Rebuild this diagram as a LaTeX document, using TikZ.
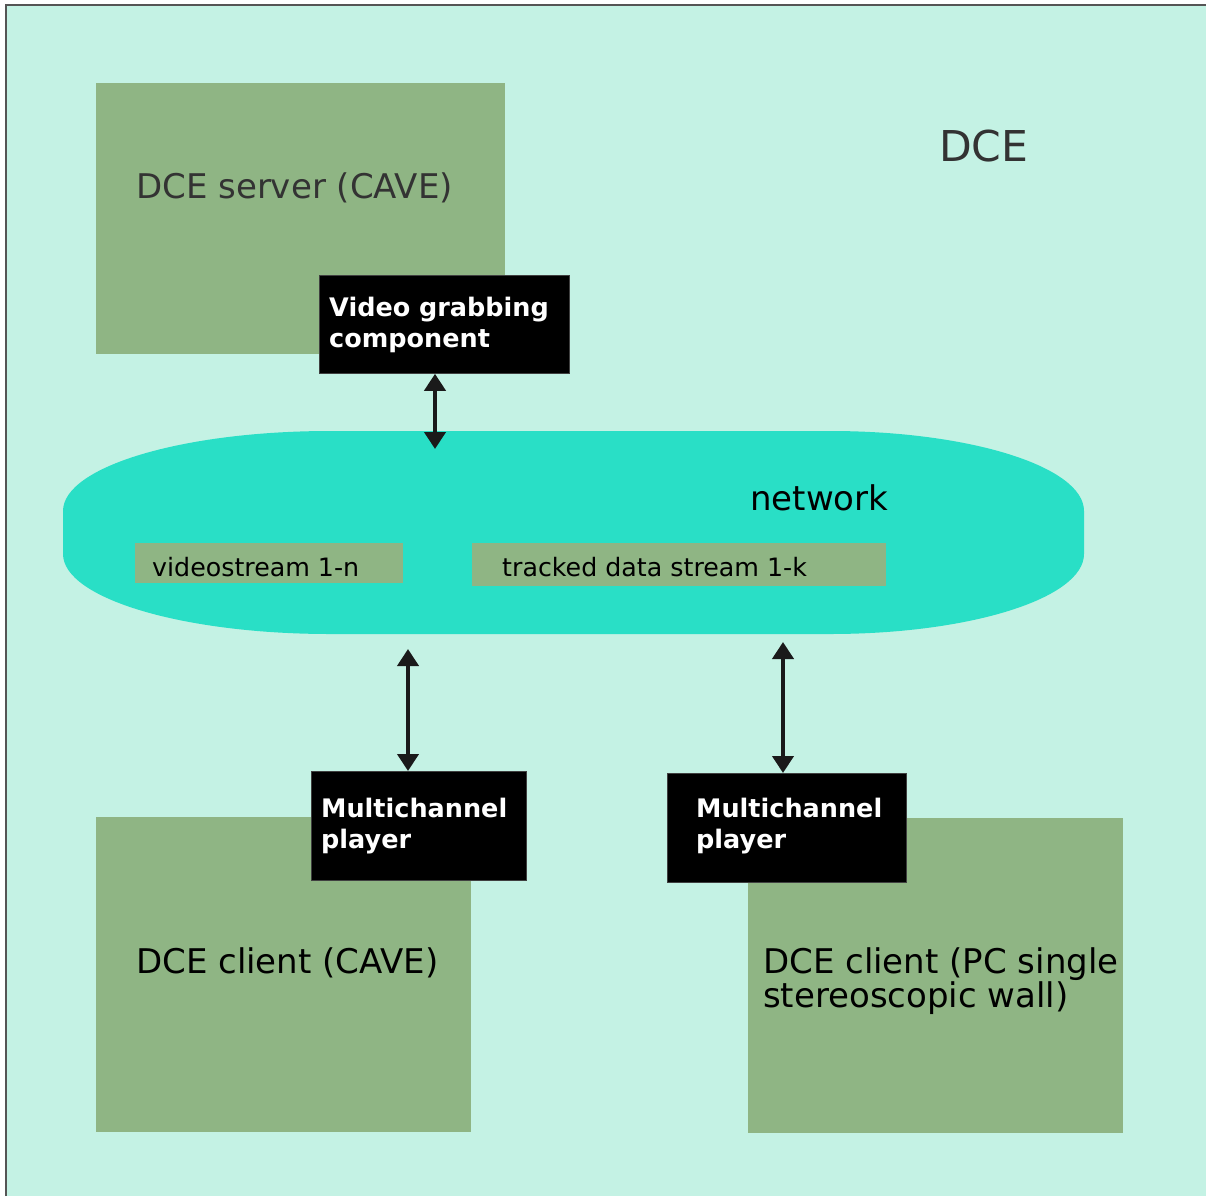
\documentclass[tikz,border=0pt]{standalone}
\usepackage{fontspec}
\setmainfont{DejaVu Sans}
\usetikzlibrary{arrows.meta}

\definecolor{dcebg}{HTML}{C4F2E4}
\definecolor{dceframe}{HTML}{555555}
\definecolor{boxgreen}{HTML}{8FB584}
\definecolor{netcyan}{HTML}{29DFC6}
\definecolor{darktext}{HTML}{333333}
\definecolor{arrowblack}{HTML}{1A1A1A}

\begin{document}
\begin{tikzpicture}[x=1pt,y=-1pt,
  area/.style={fill=boxgreen, draw=none, inner sep=0pt, anchor=north west},
  blackbox/.style={fill=black, draw=black!75, line width=0.8pt, inner sep=0pt, anchor=north west},
  txt/.style={inner sep=0pt, anchor=base west, align=left},
  bigtxt/.style={txt, font=\fontsize{34}{34}\selectfont},
  smalltxt/.style={txt, text=black, font=\fontsize{25.3}{30}\selectfont},
  boldtxt/.style={txt, text=white, font=\fontsize{25.5}{31}\selectfont\bfseries},
  link/.style={draw=arrowblack, line width=4pt,
    {Triangle[width=21pt,length=17pt]}-{Triangle[width=21pt,length=17pt]}},
]
\useasboundingbox (0,0) rectangle (1206,1196);

% environment frame
\fill[dcebg] (6,5) rectangle (1206,1196);
\draw[dceframe, line width=2.5pt] (6,1196) -- (6,5) -- (1206,5);
\node[txt, text=darktext, font=\fontsize{42.5}{42.5}\selectfont] (dce) at (939,161) {DCE};

% server and clients
\node[area, minimum width=409pt, minimum height=271pt] (server) at (96,83) {};
\node[bigtxt, text=darktext] (serverlbl) at (136,198) {DCE server (CAVE)};

\node[area, minimum width=375pt, minimum height=315pt] (clientcave) at (96,817) {};
\node[bigtxt, text=black] (cavelbl) at (136,973) {DCE client (CAVE)};

\node[area, minimum width=375pt, minimum height=315pt] (clientpc) at (748,818) {};
% multi-line labels: the base anchor sits on the last line
\node[bigtxt, text=black] (pclbl) at (763,1007) {DCE client (PC single\\stereoscopic wall)};

% network cloud
\fill[netcyan] (330,431) -- (830,431)
  .. controls (970.3,431) and (1084,466.8) .. (1084,511) -- (1084,554)
  .. controls (1084,598.2) and (970.3,634) .. (830,634) -- (330,634)
  .. controls (182.5,634) and (63,598.2) .. (63,554) -- (63,511)
  .. controls (63,466.8) and (182.5,431) .. (330,431) -- cycle;
\node[bigtxt, text=black] (netlbl) at (750,510) {network};

\node[area, minimum width=268pt, minimum height=40pt] (vstream) at (135,543) {};
\node[smalltxt] (vstreamlbl) at (152,576) {videostream 1-n};
\node[area, minimum width=414pt, minimum height=43pt] (tstream) at (472,543) {};
\node[smalltxt] (tstreamlbl) at (502,576) {tracked data stream 1-k};

% components
\node[blackbox, minimum width=250pt, minimum height=98pt] (grabber) at (319,275) {};
\node[boldtxt] (grabberlbl) at (329,347) {Video grabbing\\component};

\node[blackbox, minimum width=215pt, minimum height=109pt] (playerl) at (311,771) {};
\node[boldtxt] (playerllbl) at (321,848) {Multichannel\\player};

\node[blackbox, minimum width=239pt, minimum height=109pt] (playerr) at (667,773) {};
\node[boldtxt] (playerrlbl) at (696,848) {Multichannel\\player};

% links to the network
\coordinate (netA) at (435,449);
\coordinate (netB) at (408,649);
\coordinate (netC) at (783,642);
\draw[link] (grabber.south -| netA) -- (netA);
\draw[link] (netB) -- (netB |- playerl.north);
\draw[link] (netC) -- (netC |- playerr.north);
\end{tikzpicture}
\end{document}
